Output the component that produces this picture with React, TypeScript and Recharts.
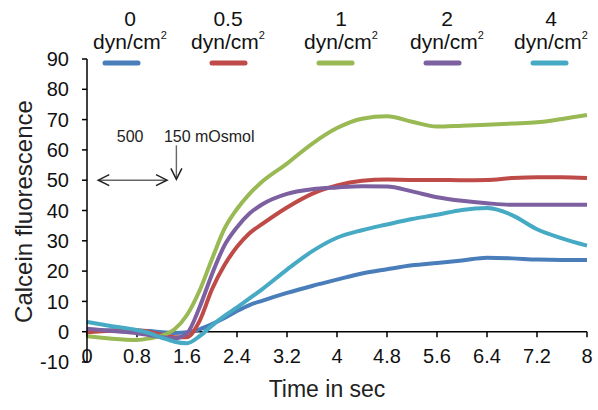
import React from 'react';
import { LineChart, Line, XAxis, YAxis, ReferenceLine, ReferenceDot, Legend } from 'recharts';

const times = [0, 0.4, 0.8, 1.0, 1.2, 1.4, 1.6, 1.8, 2.0, 2.2, 2.4, 2.6, 2.8, 3.2, 3.6, 4.0, 4.4, 4.8, 5.2, 5.6, 6.0, 6.4, 6.8, 7.2, 7.6, 8.0];
const shear0 = [0.3, 0.5, 0.3, 0.2, -0.2, -0.4, -0.2, 0.8, 2.5, 4.5, 6.8, 8.8, 10.2, 12.8, 15.1, 17.2, 19.2, 20.6, 21.9, 22.7, 23.5, 24.4, 24.2, 23.8, 23.7, 23.7];
const shear05 = [-0.2, 0.3, 0.5, 0.0, -1.0, -1.8, -1.8, 3.5, 14, 22, 28, 32.5, 35.5, 41, 45.5, 48.3, 49.8, 50.2, 50.1, 50.1, 50.0, 50.1, 50.7, 51.0, 51.0, 50.7];
const shear1 = [-1.5, -2.3, -2.7, -2.2, -1.3, 0.8, 5.5, 13.5, 24, 34, 40.5, 45.5, 49.5, 55.5, 62, 67.2, 70.3, 71.1, 69.3, 67.7, 68.0, 68.3, 68.7, 69.1, 70.2, 71.5];
const shear2 = [1.0, 0.2, -0.5, -1.2, -1.8, -2.2, -0.5, 8, 19, 28.5, 34.5, 39, 42, 45.5, 47, 47.6, 48, 47.9, 46.3, 44.4, 43.2, 42.4, 41.9, 41.9, 41.9, 41.9];
const shear4 = [3.2, 1.8, 0.5, -0.5, -2.0, -3.3, -3.8, -1.5, 2, 5.2, 8, 11, 14, 20.5, 26.5, 31, 33.5, 35.4, 37.2, 38.6, 40.2, 40.8, 38.5, 33.8, 30.8, 28.4];

const seriesKeys = ['s0', 's05', 's1', 's2', 's4'];
const seriesNames = ['0', '0.5', '1', '2', '4'];
const seriesColors = ['#4A7EBB', '#BE4B48', '#98B954', '#7D60A0', '#46AAC5'];
const seriesValues = [shear0, shear05, shear1, shear2, shear4];

const xTicks = [0, 0.8, 1.6, 2.4, 3.2, 4, 4.8, 5.6, 6.4, 7.2, 8];
const yTicks = [-10, 0, 10, 20, 30, 40, 50, 60, 70, 80, 90];

const rows = times.map((t, i) => {
  const r: Record<string, number> = { t };
  seriesKeys.forEach((k, j) => { r[k] = seriesValues[j][i]; });
  return r;
});

const FONT = '"Liberation Sans", Arial, sans-serif';

// legend layout (pixels inside legend overlay)
const legendTextCenters = [130, 228, 341, 447, 551];
const legendLineStarts = [105, 212, 319, 426, 533];

const renderLegend = (props: any) => {
  const payload = props.payload || [];
  return (
    <svg width={598} height={80} style={{ display: 'block', overflow: 'visible' }}>
      {payload.map((p: any, i: number) => (
        <g key={i}>
          <text x={legendTextCenters[i]} y={26} textAnchor="middle" fontFamily={FONT} fontSize={21} fill="#111">{p.value}</text>
          <text x={legendTextCenters[i]} y={49} textAnchor="middle" fontFamily={FONT} fontSize={21} fill="#111">
            dyn/cm<tspan fontSize={11} dy={-10}>2</tspan>
          </text>
          <line x1={legendLineStarts[i]} x2={legendLineStarts[i] + 33} y1={63} y2={63} stroke={p.color} strokeWidth={5} strokeLinecap="round" />
        </g>
      ))}
    </svg>
  );
};

const ArrowShape = (props: any) => {
  const { x1, y1, x2, y2, both } = props;
  const dx = x2 - x1;
  const dy = y2 - y1;
  const len = Math.sqrt(dx * dx + dy * dy) || 1;
  const ux = dx / len;
  const uy = dy / len;
  const head = (x: number, y: number, dirx: number, diry: number) => {
    const L = 11, W = 5.5;
    const bx = x - dirx * L;
    const by = y - diry * L;
    return `M${bx - diry * W},${by + dirx * W} L${x},${y} L${bx + diry * W},${by - dirx * W}`;
  };
  return (
    <g>
      <line x1={x1} y1={y1} x2={x2} y2={y2} stroke="#666" strokeWidth={1.4} />
      <path d={head(x2, y2, ux, uy)} fill="none" stroke="#222" strokeWidth={1.5} />
      {both ? <path d={head(x1, y1, -ux, -uy)} fill="none" stroke="#222" strokeWidth={1.5} /> : null}
    </g>
  );
};

const annoText = (label: string, anchor: string) => (p: any) => (
  <text x={p.cx} y={p.cy} textAnchor={anchor} fontFamily={FONT} fontSize={16} fill="#222">{label}</text>
);

const XTick = (props: any) => {
  const { x, y, payload } = props;
  return (
    <text x={x} y={y + 1} textAnchor="middle" fontFamily={FONT} fontSize={20} fill="#111">{payload.value}</text>
  );
};

const XTitle = (props: any) => {
  const vb = props.viewBox;
  return (
    <text x={vb.x + vb.width / 2 - 10} y={vb.y + 34.5} textAnchor="middle" fontFamily={FONT} fontSize={23} fill="#222">Time in sec</text>
  );
};

const YTitle = (props: any) => {
  const vb = props.viewBox;
  const cx = 23;
  const cy = vb.y + vb.height / 2 + 1;
  return (
    <text x={cx} y={cy} transform={`rotate(-90, ${cx}, ${cy})`} textAnchor="middle" dominantBaseline="central" fontFamily={FONT} fontSize={24} fill="#222">Calcein fluorescence</text>
  );
};

export default function App() {
  return (
    <div style={{ position: 'absolute', left: 0, top: 0, width: 598, height: 410, background: '#fff' }}>
      <LineChart width={598} height={410} data={rows} margin={{ top: 59, right: 11, bottom: 0, left: 0 }}>
        <Legend verticalAlign="middle" align="center" layout="horizontal" content={renderLegend} wrapperStyle={{ top: 0, left: 0, width: 598, height: 80 }} />
        <XAxis
          dataKey="t"
          type="number"
          domain={[0, 8]}
          ticks={xTicks}
          interval={0}
          axisLine={false}
          tickLine={false}
          tickSize={0}
          tickMargin={0}
          height={48}
          tick={<XTick />}
          label={<XTitle />}
        />
        <YAxis
          type="number"
          domain={[-10, 90]}
          ticks={yTicks}
          interval={0}
          width={87}
          axisLine={{ stroke: '#000', strokeWidth: 1.5 }}
          tickLine={{ stroke: '#000', strokeWidth: 1.5 }}
          tickSize={5}
          tickMargin={13}
          tick={{ fontFamily: FONT, fontSize: 20, fill: '#111' }}
          label={<YTitle />}
        />
        <ReferenceLine y={0} stroke="#000" strokeWidth={1.5} />
        {xTicks.map((t) => (
          <ReferenceLine key={`xt${t}`} segment={[{ x: t, y: 0 }, { x: t, y: -1.8 }]} stroke="#000" strokeWidth={1.5} />
        ))}
        <ReferenceLine segment={[{ x: 0.18, y: 50 }, { x: 1.28, y: 50 }]} shape={(p: any) => <ArrowShape {...p} both />} />
        <ReferenceLine segment={[{ x: 1.43, y: 61.5 }, { x: 1.43, y: 50.3 }]} shape={(p: any) => <ArrowShape {...p} />} />
        <ReferenceDot x={0.69} y={62.5} r={0} shape={annoText('500', 'middle')} />
        <ReferenceDot x={1.23} y={62.5} r={0} shape={annoText('150 mOsmol', 'start')} />
        {seriesKeys.map((k, i) => (
          <Line
            key={k}
            dataKey={k}
            name={seriesNames[i]}
            type="monotone"
            stroke={seriesColors[i]}
            strokeWidth={4}
            dot={false}
            activeDot={false}
            isAnimationActive={false}
          />
        ))}
      </LineChart>
    </div>
  );
}
